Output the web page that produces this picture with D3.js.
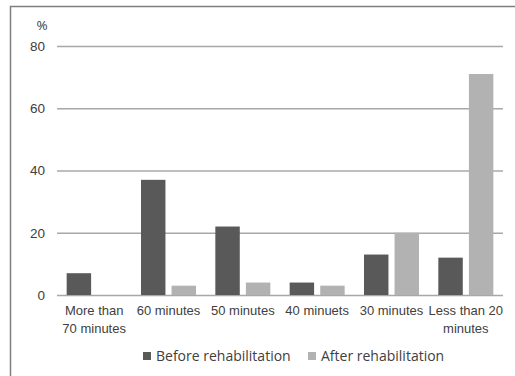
<!DOCTYPE html>
<html>
<head>
<meta charset="utf-8">
<script src="https://cdn.jsdelivr.net/npm/d3@7/dist/d3.min.js"></script>
<style>
  html, body { margin: 0; padding: 0; background: #fff; }
  svg { display: block; font-family: "Open Sans", sans-serif; }
</style>
</head>
<body>
<svg id="chart" width="515" height="376"></svg>
<script>
const categories = ["More than 70 minutes", "60 minutes", "50 minutes", "40 minuets", "30 minutes", "Less than 20 minutes"];
const categoryLines = [["More than", "70 minutes"], ["60 minutes"], ["50 minutes"], ["40 minuets"], ["30 minutes"], ["Less than 20", "minutes"]];
const seriesNames = ["Before rehabilitation", "After rehabilitation"];
const beforeValues = [7, 37, 22, 4, 13, 12];
const afterValues = [0, 3, 4, 3, 20, 71];
const yTicks = [0, 20, 40, 60, 80];
const colors = ["#595959", "#b2b2b2"];

const svg = d3.select("#chart");

// outer frame
svg.append("rect").attr("x", 10.5).attr("y", 6.5).attr("width", 520).attr("height", 400)
  .attr("fill", "none").attr("stroke", "#7f7f7f").attr("stroke-width", 1.5);

const x0 = d3.scaleBand().domain(categories).range([57, 503]).paddingInner(0.26).paddingOuter(0.13);
const x1 = d3.scaleBand().domain(seriesNames).range([0, x0.bandwidth()]).paddingInner(0.2);
const y = d3.scaleLinear().domain([0, 80]).range([295, 46]);

// gridlines + tick labels
const yAxis = d3.axisLeft(y).tickValues(yTicks).tickSize(-(503 - 57)).tickPadding(12);
const gy = svg.append("g").attr("transform", "translate(57,0)").call(yAxis);
gy.select(".domain").remove();
gy.selectAll(".tick line").attr("stroke", "#a8a8a8").attr("stroke-width", 1.6);
gy.selectAll(".tick text").attr("fill", "#404040").style("font-size", "13.5px").attr("x", -12);

svg.append("text").attr("x", 42).attr("y", 30).attr("text-anchor", "middle")
  .attr("fill", "#404040").style("font-size", "13.5px").text("%");

// bars
const data = categories.map((c, i) => ({ cat: c, vals: [beforeValues[i], afterValues[i]] }));
const groups = svg.append("g").selectAll("g").data(data).join("g")
  .attr("transform", d => `translate(${x0(d.cat)},0)`);
groups.selectAll("rect").data(d => d.vals.map((v, j) => ({ v, s: seriesNames[j], j })))
  .join("rect")
  .attr("x", d => x1(d.s))
  .attr("width", x1.bandwidth())
  .attr("y", d => y(d.v))
  .attr("height", d => y(0) - y(d.v))
  .attr("fill", d => colors[d.j]);

// category labels
const xAxis = d3.axisBottom(x0).tickSize(0).tickPadding(0);
const gx = svg.append("g").attr("transform", "translate(0,306)").call(xAxis);
gx.select(".domain").remove();
gx.selectAll(".tick text").attr("fill", "#404040").style("font-size", "13px")
  .each(function(d, i) {
    const t = d3.select(this);
    t.text(null);
    categoryLines[categories.indexOf(d)].forEach((l, k) => {
      t.append("tspan").attr("x", 0).attr("dy", k === 0 ? "0.71em" : "1.38em").text(l);
    });
  });

// legend
const legendItems = [
  { name: seriesNames[0], color: colors[0], x: 143 },
  { name: seriesNames[1], color: colors[1], x: 308 }
];
const lg = svg.append("g");
legendItems.forEach(it => {
  lg.append("rect").attr("x", it.x).attr("y", 352).attr("width", 8).attr("height", 8).attr("fill", it.color);
  lg.append("text").attr("x", it.x + 13).attr("y", 356).attr("dy", "0.35em")
    .attr("fill", "#404040").style("font-size", "14px").text(it.name);
});
</script>
</body>
</html>
